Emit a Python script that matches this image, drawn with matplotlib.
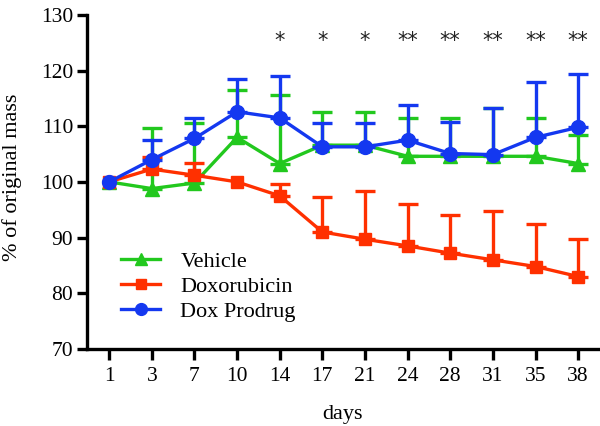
import matplotlib
matplotlib.use("Agg")
import matplotlib.pyplot as plt
from matplotlib.lines import Line2D
import numpy as np

days = ["1", "3", "7", "10", "14", "17", "21", "24", "28", "31", "35", "38"]
vehicle = [100, 98.8, 99.8, 108.0, 103.3, 106.6, 106.6, 104.6, 104.6, 104.6, 104.6, 103.3]
vehicle_err = [0, 10.9, 10.7, 8.5, 12.4, 5.9, 5.9, 6.9, 6.9, 8.6, 6.9, 5.2]
doxo = [100, 102.3, 101.2, 100.0, 97.5, 91.0, 89.7, 88.5, 87.2, 86.0, 84.8, 83.0]
doxo_err = [0, 2.2, 2.2, 0, 2.1, 6.3, 8.6, 7.5, 6.8, 8.8, 7.6, 6.8]
prodrug = [100, 104.0, 107.8, 112.6, 111.5, 106.3, 106.3, 107.5, 105.1, 104.9, 108.0, 109.8]
prodrug_err = [0, 3.5, 3.6, 5.8, 7.5, 4.2, 4.2, 6.3, 5.6, 8.4, 10.0, 9.5]
stars = ["", "", "", "", "*", "*", "*", "**", "**", "**", "**", "**"]

plt.rcParams['font.family'] = ['Liberation Serif', 'DejaVu Serif']

fig = plt.figure(figsize=(6, 4.26), dpi=100)
ax = fig.add_axes([0.145, 0.181, 0.852, 0.784])

x = np.arange(len(days))
green = '#22c81e'
red = '#ff3000'
blue = '#1438f0'

lw = 2.4
handles = []
for vals, err, col, mk, ms, lab, z in [
    (vehicle, vehicle_err, green, '^', 10, 'Vehicle', 3),
    (doxo, doxo_err, red, 's', 9, 'Doxorubicin', 4),
    (prodrug, prodrug_err, blue, 'o', 10, 'Dox Prodrug', 5),
]:
    vals = np.asarray(vals, dtype=float)
    err = np.asarray(err, dtype=float)
    m = err > 0
    ax.errorbar(x[m], vals[m], yerr=[np.zeros(m.sum()), err[m]], fmt='none',
                ecolor=col, elinewidth=lw, capsize=7, capthick=lw, zorder=z)
    ax.plot(x, vals, color=col, marker=mk, markersize=ms, linewidth=lw, zorder=z)
    handles.append(Line2D([], [], color=col, marker=mk, markersize=ms - 1.5,
                          linewidth=lw, label=lab))

for xi, s in zip(x, stars):
    if s:
        ax.text(xi, 125.3, s, ha='center', va='center', fontsize=15,
                family=['DejaVu Sans'], color='#222222')

ax.set_xlim(-0.52, 11.47)
ax.set_ylim(70, 130)
ax.set_xticks(x)
ax.set_xticklabels(days)
ax.set_yticks(np.arange(70, 131, 10))
ax.spines['top'].set_visible(False)
ax.spines['right'].set_visible(False)
for sp in ['left', 'bottom']:
    ax.spines[sp].set_linewidth(2.4)
ax.tick_params(axis='both', width=2.4, length=7, labelsize=15.5, colors='black', pad=3)
ax.tick_params(axis='x', length=8, pad=5)
ax.set_xlabel('days', fontsize=16, labelpad=14)
ax.set_ylabel('% of original mass', fontsize=16)
ax.yaxis.set_label_coords(-0.128, 0.515)

ax.legend(handles=handles, loc='lower left', bbox_to_anchor=(0.05, 0.055),
          frameon=False, fontsize=16, handlelength=1.75, labelspacing=0.2,
          handletextpad=0.9, borderaxespad=0)

fig.savefig('out.png', dpi=100)
